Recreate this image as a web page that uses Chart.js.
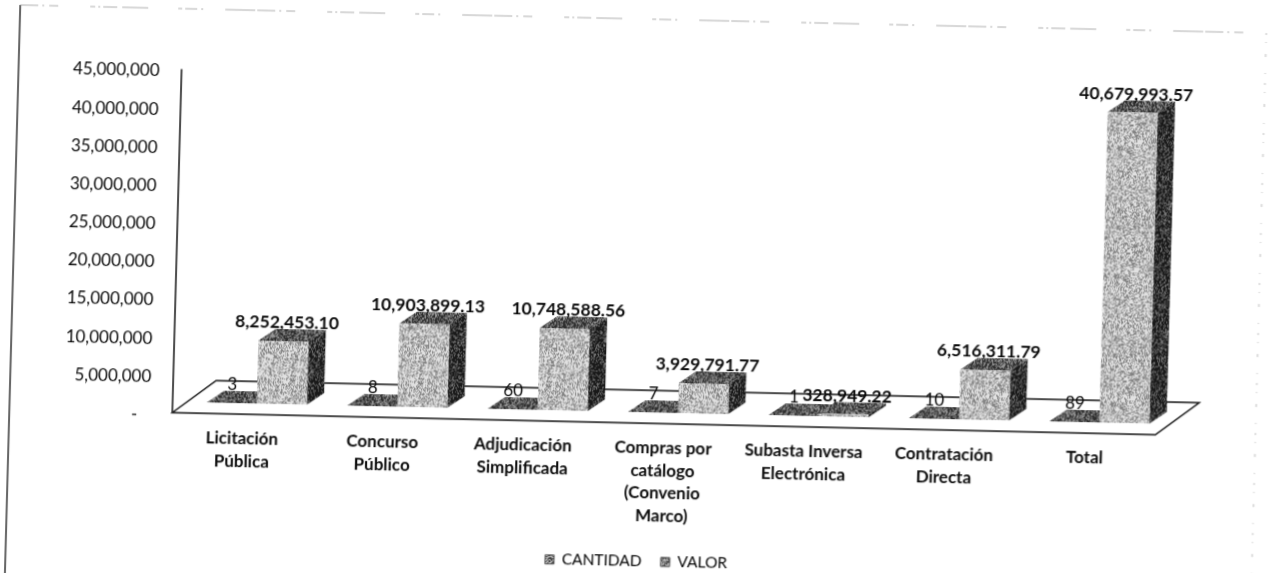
<!DOCTYPE html>
<html>
<head>
<meta charset="utf-8">
<script src="https://cdn.jsdelivr.net/npm/chart.js@4"></script>
<style>
html,body{margin:0;padding:0;background:#fff;width:1275px;height:573px;overflow:hidden}
#c{position:absolute;left:-30px;top:-30px;transform-origin:center center;transform:matrix(1,0.0225,-0.027,1,0,0)}
</style>
</head>
<body>
<canvas id="c" width="1335" height="633"></canvas>
<script>
const categories = [
  ["Licitación","Pública"],
  ["Concurso","Público"],
  ["Adjudicación","Simplificada"],
  ["Compras por","catálogo","(Convenio","Marco)"],
  ["Subasta Inversa","Electrónica"],
  ["Contratación","Directa"],
  ["Total"]
];
const cantidad = [3, 8, 60, 7, 1, 10, 89];
const valor = [8252453.10, 10903899.13, 10748588.56, 3929791.77, 328949.22, 6516311.79, 40679993.57];
const seriesNames = ["CANTIDAD", "VALOR"];
const yMax = 45000000, yStep = 5000000;

// speckled scan texture tiles (fixed sequence, styling only)
function tile(low, high, share, seed){
  const n = 128, cv = document.createElement('canvas');
  cv.width = cv.height = n;
  const g = cv.getContext('2d'), im = g.createImageData(n, n);
  let s = seed >>> 0;
  for(let i = 0; i < n*n; i++){
    s ^= s << 13; s >>>= 0;
    s ^= s >>> 17;
    s ^= s << 5; s >>>= 0;
    const r = (s % 1000) / 1000;
    const v = r < share ? high : low;
    im.data[i*4] = im.data[i*4+1] = im.data[i*4+2] = v;
    im.data[i*4+3] = 255;
  }
  g.putImageData(im, 0, 0);
  return g.createPattern(cv, 'repeat');
}
const frontFill = tile(130, 225, 0.60, 2463534242);
const topFill = tile(45, 150, 0.42, 88172645);
const sideFill = tile(25, 120, 0.30, 521288629);
const swatchFill = tile(70, 190, 0.5, 314159265);

const BAR_DX = 14, BAR_DY = 13.5;  // bars stand inside the floor
const DEPTH_X = 17, DEPTH_Y = 12;  // bar depth
const FLOOR_X = 43, FLOOR_Y = 33;  // floor depth
const PLANE_UP = 2.5;              // floor and axis line sit just above the tick baseline

function poly(ctx, pts, fill){
  ctx.beginPath();
  pts.forEach((p,i)=> i ? ctx.lineTo(p[0],p[1]) : ctx.moveTo(p[0],p[1]));
  ctx.closePath();
  ctx.fillStyle = fill;
  ctx.fill();
}

const scene3d = {
  id:'scene3d',
  afterLayout(chart){
    // legend sits centred on the page rather than on the plot box
    chart.legend.left += 64;
    chart.legend.right += 64;
  },
  beforeDatasetsDraw(chart){
    const {ctx, chartArea:a} = chart;
    const b = a.bottom-PLANE_UP;
    ctx.save();
    ctx.strokeStyle = '#111'; ctx.lineWidth = 1.5;
    // value axis line
    ctx.beginPath();
    ctx.moveTo(a.left, a.top-PLANE_UP);
    ctx.lineTo(a.left, b);
    ctx.stroke();
    // floor
    ctx.beginPath();
    ctx.moveTo(a.left, b);
    ctx.lineTo(a.left+FLOOR_X, b-FLOOR_Y);
    ctx.lineTo(a.right+FLOOR_X, b-FLOOR_Y);
    ctx.lineTo(a.right, b);
    ctx.closePath();
    ctx.stroke();
    ctx.restore();
    ctx.save();
    ctx.translate(BAR_DX, -BAR_DY);
    chart.data.datasets.forEach((d,i)=>{
      chart.getDatasetMeta(i).data.forEach(el=>{
        const l = el.x-el.width/2, r = el.x+el.width/2;
        poly(ctx, [[l,el.y],[r,el.y],[r+DEPTH_X,el.y-DEPTH_Y],[l+DEPTH_X,el.y-DEPTH_Y]], topFill);
        if(el.base-el.y > 1){
          poly(ctx, [[r,el.y],[r,el.base],[r+DEPTH_X,el.base-DEPTH_Y],[r+DEPTH_X,el.y-DEPTH_Y]], sideFill);
        }
      });
    });
  },
  afterDatasetsDraw(chart){
    const {ctx} = chart;
    ctx.fillStyle = '#0a0a0a';
    ctx.textAlign = 'center';
    ctx.textBaseline = 'middle';
    ctx.font = '17px Lato';
    chart.getDatasetMeta(0).data.forEach((el,i)=>{
      ctx.fillText(String(cantidad[i]), el.x, el.base-18);
    });
    ctx.font = 'bold 17.5px Lato';
    chart.getDatasetMeta(1).data.forEach((el,i)=>{
      const t = valor[i].toLocaleString('en-US',{minimumFractionDigits:2,maximumFractionDigits:2});
      ctx.fillText(t, el.x+3, el.y-18.5);
    });
    ctx.restore();
  }
};

// edges of the scanned page
const pageEdges = {
  id:'pageEdges',
  beforeDraw(chart){
    const {ctx} = chart;
    ctx.save();
    ctx.strokeStyle = '#111'; ctx.lineWidth = 1.3;
    ctx.beginPath(); ctx.moveTo(43,49); ctx.lineTo(43,633); ctx.stroke();
    ctx.strokeStyle = '#999'; ctx.lineWidth = 0.8;
    ctx.setLineDash([18,4,2,5,9,32,5,3,2,3,14,5,26,30,4,3,12,4,2,22,30,2]);
    ctx.beginPath(); ctx.moveTo(43,49); ctx.lineTo(1289,49); ctx.stroke();
    ctx.strokeStyle = '#aaa';
    ctx.setLineDash([2,7,1,11,3,16,1,9]);
    ctx.beginPath(); ctx.moveTo(1289,49); ctx.lineTo(1289,633); ctx.stroke();
    ctx.restore();
  }
};

new Chart(document.getElementById('c'), {
  type:'bar',
  data:{
    labels:categories,
    datasets:[
      {label:seriesNames[0], data:cantidad, backgroundColor:topFill, clip:false},
      {label:seriesNames[1], data:valor, backgroundColor:frontFill, clip:false}
    ]
  },
  options:{
    responsive:false,
    animation:false,
    devicePixelRatio:1,
    categoryPercentage:0.712,
    barPercentage:1,
    layout:{padding:{left:30,right:146,top:112,bottom:24}},
    scales:{
      x:{
        grid:{display:false,drawTicks:false},
        border:{display:false},
        afterFit(s){s.height=109;},
        ticks:{color:'#0a0a0a',padding:11,autoSkip:false,maxRotation:0,minRotation:0,
          font:{family:'Lato',size:17,weight:'bold',lineHeight:1.32}}
      },
      y:{
        min:0,max:yMax,
        grid:{display:false,drawTicks:false},
        border:{display:false},
        afterFit(s){s.width=176;},
        ticks:{stepSize:yStep,color:'#0a0a0a',padding:22,
          font:{family:'Lato',size:17},
          callback(v){return v===0?'-\u00a0\u00a0\u00a0':v.toLocaleString('en-US');}}
      }
    },
    plugins:{
      legend:{
        position:'bottom',
        labels:{boxWidth:9,boxHeight:9,padding:19,color:'#0a0a0a',font:{family:'Lato',size:15.5},
          generateLabels(chart){
            return chart.data.datasets.map((d,i)=>({text:d.label,fillStyle:swatchFill,strokeStyle:'#555',lineWidth:1,datasetIndex:i,hidden:false}));
          }}
      },
      tooltip:{enabled:false}
    }
  },
  plugins:[pageEdges,scene3d]
});
</script>
</body>
</html>
